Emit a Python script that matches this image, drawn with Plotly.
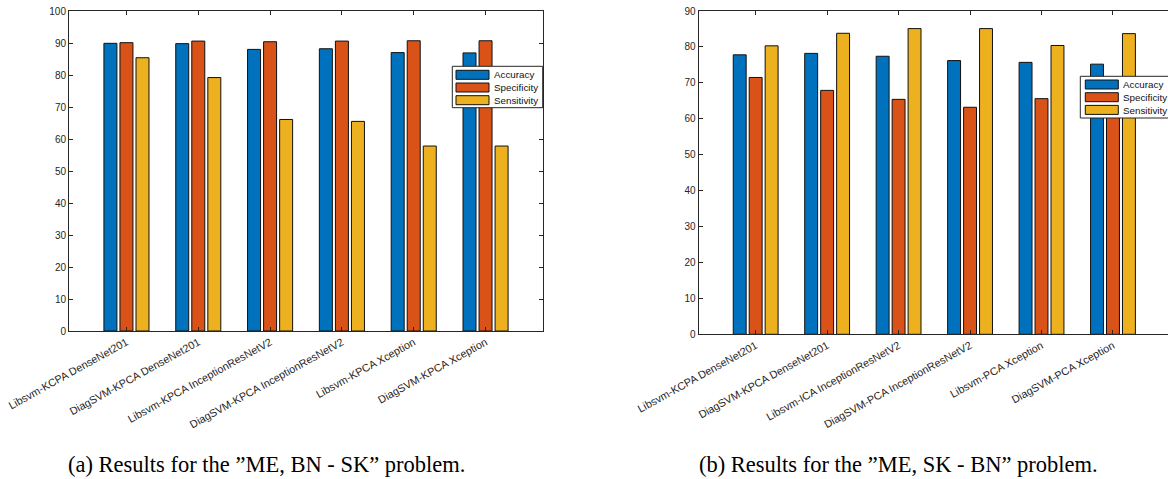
import plotly.graph_objects as go

# ---------------- data ----------------
series_names = ["Accuracy", "Specificity", "Sensitivity"]
series_colors = ["#0072BD", "#D95319", "#EDB120"]

cats_a = ["Libsvm-KCPA DenseNet201", "DiagSVM-KPCA DenseNet201",
          "Libsvm-KPCA InceptionResNetV2", "DiagSVM-KPCA InceptionResNetV2",
          "Libsvm-KPCA Xception", "DiagSVM-KPCA Xception"]
accuracy_a = [89.9, 89.8, 88.0, 88.2, 87.0, 86.9]
specificity_a = [90.1, 90.6, 90.4, 90.6, 90.7, 90.7]
sensitivity_a = [85.4, 79.2, 66.1, 65.5, 57.8, 57.8]

cats_b = ["Libsvm-KCPA DenseNet201", "DiagSVM-KPCA DenseNet201",
          "Libsvm-ICA InceptionResNetV2", "DiagSVM-PCA InceptionResNetV2",
          "Libsvm-PCA Xception", "DiagSVM-PCA Xception"]
accuracy_b = [77.8, 78.2, 77.4, 76.2, 75.7, 75.2]
specificity_b = [71.5, 67.9, 65.4, 63.2, 65.6, 62.5]
sensitivity_b = [80.3, 83.8, 85.1, 85.1, 80.4, 83.7]

caption_a = "(a) Results for the \u201dME, BN - SK\u201d problem."
caption_b = "(b) Results for the \u201dME, SK - BN\u201d problem."

yticks_a = list(range(0, 101, 10))
yticks_b = list(range(0, 91, 10))

# ---------------- layout helpers ----------------
W, H = 1168, 479
def px(x):
    return x / W
def py(y):
    return 1 - y / H

AXC = "#262626"
SANS = "Liberation Sans, Arial, Helvetica, sans-serif"
SERIF = "Liberation Serif, Times New Roman, serif"

fig = go.Figure()

for vals, xa, ya, cats in [
    ((accuracy_a, specificity_a, sensitivity_a), "x", "y", cats_a),
    ((accuracy_b, specificity_b, sensitivity_b), "x2", "y2", cats_b),
]:
    for name, color, v in zip(series_names, series_colors, vals):
        fig.add_trace(go.Bar(
            x=cats, y=v, name=name, xaxis=xa, yaxis=ya,
            marker=dict(color=color, line=dict(color="#111111", width=1)),
            showlegend=False, hoverinfo="x+y+name",
        ))

axis_common = dict(showline=True, linecolor=AXC, linewidth=1,
                   ticks="inside", ticklen=4, tickcolor=AXC, tickwidth=1,
                   showgrid=False, zeroline=False, automargin=False)
yfont = dict(family=SANS, size=10, color=AXC)
xfont = dict(family=SANS, size=10.8, color=AXC)

fig.update_layout(
    template="none",
    width=W, height=H, autosize=False,
    margin=dict(l=0, r=0, t=0, b=0, pad=0),
    paper_bgcolor="white", plot_bgcolor="white",
    barmode="group", bargap=0.33, bargroupgap=0.19,
    xaxis=dict(domain=[px(69), px(543)], anchor="y", type="category",
               range=[-0.8, 5.8], mirror="ticks", tickangle=-29,
               tickfont=xfont, **axis_common),
    yaxis=dict(domain=[py(331), py(11)], anchor="x", range=[0, 100],
               tickvals=yticks_a, mirror="ticks", tickfont=yfont, **axis_common),
    xaxis2=dict(domain=[px(698.5), 1.0], anchor="y2", type="category",
                range=[-0.8, 5.77], mirror="ticks", tickangle=-29,
                tickfont=xfont, **axis_common),
    yaxis2=dict(domain=[py(334.3), py(11)], anchor="x2", range=[0, 90],
                tickvals=yticks_b, mirror=False, tickfont=yfont, **axis_common),
)

# ---------------- custom legends (MATLAB style) ----------------
shapes = []
annotations = []

def add_legend(box_x0, box_y0, box_x1, box_y1, sw_x0, row_top, pitch):
    shapes.append(dict(type="rect", xref="paper", yref="paper",
                       x0=px(box_x0), x1=px(box_x1), y0=py(box_y1), y1=py(box_y0),
                       fillcolor="white", line=dict(color=AXC, width=1), layer="above"))
    for i, (name, color) in enumerate(zip(series_names, series_colors)):
        top = row_top + i * pitch
        shapes.append(dict(type="rect", xref="paper", yref="paper",
                           x0=px(sw_x0), x1=px(sw_x0 + 33), y0=py(top + 9), y1=py(top),
                           fillcolor=color, line=dict(color="#111111", width=1), layer="above"))
        annotations.append(dict(xref="paper", yref="paper", x=px(sw_x0 + 35.5), y=py(top + 4.7),
                                text=name, showarrow=False, xanchor="left", yanchor="middle",
                                font=dict(family=SANS, size=9.8, color="#111111")))

add_legend(452.3, 66.3, 542.7, 107.7, 456.0, 70.3, 12.7)
add_legend(1080.3, 76.3, 1172, 118.0, 1085.3, 80.0, 12.7)

annotations.append(dict(xref="paper", yref="paper", x=px(266), y=py(464),
                        text=caption_a, showarrow=False, xanchor="center", yanchor="middle",
                        font=dict(family=SERIF, size=22.5, color="black")))
annotations.append(dict(xref="paper", yref="paper", x=px(898), y=py(464),
                        text=caption_b, showarrow=False, xanchor="center", yanchor="middle",
                        font=dict(family=SERIF, size=22.5, color="black")))

fig.update_layout(shapes=shapes, annotations=annotations)

fig.write_html(
    "out.html",
    config={"displayModeBar": False},
    post_script="document.body.style.margin='0';document.body.style.overflow='hidden';",
)
